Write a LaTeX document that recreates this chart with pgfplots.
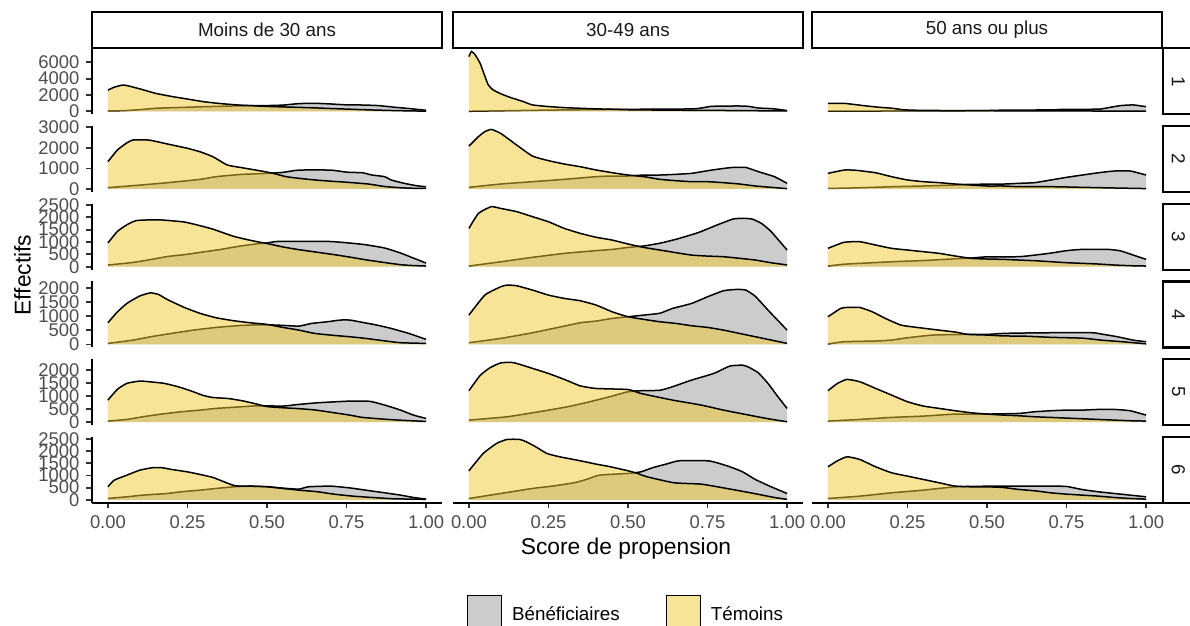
\documentclass[border=0pt]{standalone}
\usepackage{fontspec}
\setmainfont{Liberation Sans}
\usepackage{pgfplots}
\pgfplotsset{compat=1.18}
\definecolor{gfill}{RGB}{153,153,153}
\definecolor{yfill}{RGB}{241,201,45}
\definecolor{ticklab}{RGB}{77,77,77}
\definecolor{tickcol}{RGB}{51,51,51}
\definecolor{striptext}{RGB}{26,26,26}

\newcommand\curves[2]{%
 \addplot[draw=none, fill=gfill, fill opacity=0.5, smooth, tension=0.3, forget plot] coordinates {#1} \closedcycle;
 \addplot[black, line width=0.75pt, smooth, tension=0.3, forget plot] coordinates {#1};
 \addplot[draw=none, fill=yfill, fill opacity=0.5, smooth, tension=0.3, forget plot] coordinates {#2} \closedcycle;
 \addplot[black, line width=0.75pt, smooth, tension=0.3, forget plot] coordinates {#2};
}

\pgfplotsset{
 panel/.style={anchor=north west, scale only axis, width=175pt, height=33pt,
  xmin=-0.05, xmax=1.05, scaled ticks=false,
  xtick={0,0.25,0.5,0.75,1}, xticklabels={0.00,0.25,0.50,0.75,1.00},
  axis line style={black, line width=0.9pt},
  every tick/.style={tickcol, line width=0.9pt},
  major tick length=2.75pt,
  tick label style={font=\fontsize{9.2}{9.5}\selectfont, text=ticklab},
 },
 noax/.style={hide x axis, hide y axis},
 yax/.style={axis y line*=left, hide x axis, tick align=outside},
 xax/.style={axis x line*=bottom, hide y axis, tick align=outside},
 xyax/.style={axis x line*=bottom, axis y line*=left, tick align=outside},
 rowA/.style={ymin=-367.5, ymax=7717.5, ytick={0,2000,4000,6000}, yticklabels={0,2000,4000,6000}},
 rowB/.style={ymin=-146, ymax=3066, ytick={0,1000,2000,3000}, yticklabels={0,1000,2000,3000}},
 rowC/.style={ymin=-121.5, ymax=2551.5, ytick={0,500,1000,1500,2000,2500}, yticklabels={0,500,1000,1500,2000,2500}},
 rowD/.style={ymin=-106, ymax=2226, ytick={0,500,1000,1500,2000}, yticklabels={0,500,1000,1500,2000}},
 rowE/.style={ymin=-116, ymax=2436, ytick={0,500,1000,1500,2000}, yticklabels={0,500,1000,1500,2000}},
 rowF/.style={ymin=-123.5, ymax=2593.5, ytick={0,500,1000,1500,2000,2500}, yticklabels={0,500,1000,1500,2000,2500}},
}

\begin{document}
\begin{tikzpicture}
\path[use as bounding box] (0,0) rectangle (595pt,-313pt);

% ---------------- Row 1 ----------------
\begin{axis}[panel, rowA, yax, at={(46pt,-24.15pt)}]
\curves{(0,40)(0.05,80)(0.1,200)(0.15,370)(0.2,440)(0.25,500)(0.3,560)(0.35,610)(0.4,660)(0.45,690)(0.5,700)(0.55,760)(0.6,940)(0.65,980)(0.7,900)(0.75,790)(0.8,770)(0.85,700)(0.9,500)(0.95,330)(1,120)}
{(0,2600)(0.02,2950)(0.05,3220)(0.1,2750)(0.15,2200)(0.2,1820)(0.25,1500)(0.3,1180)(0.35,960)(0.4,800)(0.45,690)(0.5,600)(0.55,540)(0.6,480)(0.65,420)(0.7,340)(0.75,270)(0.8,200)(0.85,140)(0.9,90)(0.95,50)(1,20)}
\end{axis}
\begin{axis}[panel, rowA, noax, at={(226.5pt,-24.15pt)}]
\curves{(0,0)(0.1,60)(0.2,120)(0.3,170)(0.4,210)(0.5,240)(0.6,270)(0.7,290)(0.73,400)(0.76,600)(0.8,640)(0.85,650)(0.88,600)(0.91,400)(0.95,330)(0.97,250)(1,90)}
{(0,6700)(0.008,7330)(0.02,6900)(0.035,5900)(0.045,4850)(0.06,3300)(0.075,2650)(0.1,2150)(0.13,1700)(0.17,1200)(0.2,780)(0.25,580)(0.3,450)(0.35,370)(0.4,300)(0.45,250)(0.5,190)(0.6,150)(0.7,120)(0.8,100)(0.9,70)(1,40)}
\end{axis}
\begin{axis}[panel, rowA, noax, at={(406pt,-24.15pt)}]
\curves{(0,20)(0.2,40)(0.4,60)(0.5,90)(0.55,140)(0.7,170)(0.74,240)(0.85,260)(0.88,440)(0.92,700)(0.96,780)(1,560)}
{(0,980)(0.05,975)(0.08,850)(0.12,660)(0.16,500)(0.2,380)(0.24,180)(0.3,110)(0.4,90)(0.5,70)(0.6,60)(0.7,50)(0.8,40)(0.9,30)(1,20)}
\end{axis}

% ---------------- Row 2 ----------------
\begin{axis}[panel, rowB, yax, at={(46pt,-63pt)}]
\curves{(0,65)(0.1,190)(0.19,310)(0.29,470)(0.34,600)(0.42,710)(0.5,760)(0.55,810)(0.6,920)(0.7,920)(0.75,820)(0.8,790)(0.83,680)(0.87,600)(0.89,440)(0.93,280)(0.97,160)(1,110)}
{(0,1330)(0.03,1900)(0.06,2250)(0.08,2390)(0.13,2380)(0.19,2180)(0.25,1980)(0.29,1810)(0.33,1570)(0.375,1170)(0.42,1040)(0.48,880)(0.52,760)(0.56,600)(0.6,520)(0.65,440)(0.7,380)(0.75,330)(0.82,240)(0.87,120)(0.92,60)(0.96,35)(1,30)}
\end{axis}
\begin{axis}[panel, rowB, noax, at={(226.5pt,-63pt)}]
\curves{(0,81)(0.1,243)(0.2,356)(0.3,470)(0.4,600)(0.45,632)(0.5,632)(0.55,680)(0.6,680)(0.65,713)(0.7,761)(0.75,890)(0.8,1000)(0.83,1050)(0.87,1050)(0.91,842)(0.96,600)(1,275)}
{(0,2090)(0.03,2550)(0.05,2790)(0.07,2900)(0.1,2705)(0.15,2140)(0.2,1600)(0.25,1380)(0.3,1215)(0.35,1085)(0.4,925)(0.45,795)(0.5,680)(0.55,600)(0.6,470)(0.65,405)(0.7,356)(0.75,356)(0.8,308)(0.85,243)(0.9,146)(0.95,81)(1,16)}
\end{axis}
\begin{axis}[panel, rowB, noax, at={(406pt,-63pt)}]
\curves{(0,30)(0.05,40)(0.1,60)(0.2,110)(0.3,146)(0.4,194)(0.45,227)(0.55,240)(0.6,275)(0.65,308)(0.7,437)(0.75,567)(0.8,680)(0.85,790)(0.9,875)(0.95,875)(1,680)}
{(0,760)(0.05,920)(0.08,920)(0.1,890)(0.15,790)(0.2,600)(0.25,440)(0.3,356)(0.35,308)(0.4,243)(0.45,194)(0.5,146)(0.55,146)(0.6,113)(0.7,113)(0.8,81)(0.9,49)(1,20)}
\end{axis}

% ---------------- Row 3 ----------------
\begin{axis}[panel, rowC, yax, at={(46pt,-101.85pt)}]
\curves{(0,67)(0.08,175)(0.13,280)(0.19,418)(0.24,486)(0.29,580)(0.35,690)(0.41,823)(0.47,930)(0.5,960)(0.53,1020)(0.6,1026)(0.7,1020)(0.76,958)(0.81,890)(0.87,756)(0.92,553)(0.96,350)(1,148)}
{(0,960)(0.03,1430)(0.06,1700)(0.09,1870)(0.16,1900)(0.24,1810)(0.29,1660)(0.33,1520)(0.395,1230)(0.44,1090)(0.48,985)(0.5,940)(0.55,800)(0.6,690)(0.65,600)(0.71,490)(0.76,390)(0.81,280)(0.866,175)(0.92,81)(0.96,45)(1,27)}
\end{axis}
\begin{axis}[panel, rowC, noax, at={(226.5pt,-101.85pt)}]
\curves{(0,27)(0.1,200)(0.2,380)(0.3,540)(0.4,650)(0.45,700)(0.5,780)(0.55,840)(0.6,950)(0.65,1107)(0.72,1377)(0.78,1690)(0.83,1930)(0.86,1960)(0.89,1930)(0.92,1750)(0.95,1420)(1,675)}
{(0,1550)(0.03,2160)(0.07,2430)(0.1,2360)(0.15,2230)(0.2,2025)(0.25,1820)(0.3,1550)(0.35,1350)(0.4,1190)(0.45,1080)(0.5,920)(0.55,780)(0.6,675)(0.65,570)(0.7,470)(0.75,430)(0.8,405)(0.85,340)(0.9,270)(0.95,160)(1,70)}
\end{axis}
\begin{axis}[panel, rowC, noax, at={(406pt,-101.85pt)}]
\curves{(0,27)(0.05,100)(0.1,135)(0.2,200)(0.3,250)(0.4,320)(0.45,350)(0.5,400)(0.6,405)(0.65,470)(0.7,550)(0.75,650)(0.8,702)(0.88,702)(0.92,640)(0.96,470)(1,297)}
{(0,743)(0.05,986)(0.1,1013)(0.15,878)(0.2,743)(0.25,675)(0.3,608)(0.35,540)(0.4,432)(0.45,338)(0.5,311)(0.55,297)(0.6,270)(0.65,243)(0.7,203)(0.75,162)(0.8,135)(0.85,108)(0.9,68)(0.95,40)(1,27)}
\end{axis}

% ---------------- Row 4 ----------------
\begin{axis}[panel, rowD, yax, at={(46pt,-140.7pt)}]
\curves{(0,35)(0.08,153)(0.134,270)(0.186,365)(0.27,506)(0.34,600)(0.42,670)(0.48,694)(0.53,683)(0.6,647)(0.64,741)(0.69,800)(0.73,860)(0.76,860)(0.79,800)(0.845,683)(0.89,565)(0.945,390)(1,177)}
{(0,765)(0.03,1150)(0.06,1450)(0.1,1710)(0.134,1820)(0.16,1760)(0.186,1590)(0.24,1306)(0.29,1095)(0.34,942)(0.395,836)(0.447,765)(0.5,706)(0.55,600)(0.6,506)(0.65,388)(0.71,318)(0.76,271)(0.81,212)(0.866,130)(0.92,59)(1,35)}
\end{axis}
\begin{axis}[panel, rowD, noax, at={(226.5pt,-140.7pt)}]
\curves{(0,59)(0.1,212)(0.2,412)(0.3,647)(0.35,765)(0.4,824)(0.45,918)(0.5,977)(0.55,1036)(0.6,1100)(0.64,1271)(0.7,1448)(0.75,1683)(0.8,1895)(0.84,1942)(0.87,1920)(0.9,1700)(0.94,1212)(1,506)}
{(0,1036)(0.05,1742)(0.1,2036)(0.12,2095)(0.15,2072)(0.2,1919)(0.25,1742)(0.3,1624)(0.35,1542)(0.4,1389)(0.45,1153)(0.5,977)(0.55,883)(0.6,800)(0.65,742)(0.7,659)(0.75,600)(0.8,506)(0.85,388)(0.9,271)(0.95,153)(1,35)}
\end{axis}
\begin{axis}[panel, rowD, noax, at={(406pt,-140.7pt)}]
\curves{(0,12)(0.05,94)(0.15,120)(0.2,153)(0.25,235)(0.33,330)(0.44,353)(0.5,353)(0.55,388)(0.6,400)(0.7,412)(0.83,412)(0.86,365)(0.91,270)(0.96,150)(1,94)}
{(0,977)(0.04,1270)(0.06,1306)(0.1,1306)(0.14,1150)(0.18,920)(0.23,680)(0.28,600)(0.33,530)(0.4,436)(0.44,353)(0.5,330)(0.55,300)(0.62,290)(0.7,250)(0.8,220)(0.86,150)(0.93,90)(1,20)}
\end{axis}

% ---------------- Row 5 ----------------
\begin{axis}[panel, rowE, yax, at={(46pt,-179.55pt)}]
\curves{(0,39)(0.06,103)(0.11,206)(0.16,297)(0.23,400)(0.29,464)(0.34,529)(0.42,593)(0.47,632)(0.55,620)(0.6,684)(0.66,748)(0.76,813)(0.81,813)(0.83,790)(0.87,658)(0.92,464)(0.96,271)(1,142)}
{(0,851)(0.03,1270)(0.06,1500)(0.1,1587)(0.13,1560)(0.176,1500)(0.22,1370)(0.26,1210)(0.3,1030)(0.33,950)(0.375,916)(0.42,830)(0.46,720)(0.5,600)(0.55,555)(0.6,520)(0.65,470)(0.69,400)(0.76,271)(0.8,181)(0.88,103)(0.94,60)(1,26)}
\end{axis}
\begin{axis}[panel, rowE, noax, at={(226.5pt,-179.55pt)}]
\curves{(0,77)(0.12,206)(0.22,400)(0.31,593)(0.38,787)(0.45,1006)(0.5,1174)(0.54,1213)(0.6,1230)(0.64,1367)(0.7,1625)(0.77,1883)(0.82,2167)(0.86,2200)(0.88,2120)(0.91,1900)(0.94,1496)(0.97,1000)(1,529)}
{(0,1213)(0.035,1800)(0.066,2100)(0.1,2290)(0.14,2300)(0.2,2077)(0.25,1880)(0.3,1650)(0.35,1400)(0.4,1300)(0.5,1260)(0.54,1109)(0.64,851)(0.73,658)(0.8,464)(0.88,271)(0.94,130)(1,13)}
\end{axis}
\begin{axis}[panel, rowE, noax, at={(406pt,-179.55pt)}]
\curves{(0,39)(0.1,103)(0.2,181)(0.3,232)(0.4,310)(0.5,310)(0.6,335)(0.65,400)(0.7,439)(0.75,464)(0.8,464)(0.85,490)(0.9,490)(0.95,439)(1,271)}
{(0,1213)(0.03,1496)(0.06,1651)(0.1,1561)(0.15,1303)(0.2,1045)(0.25,787)(0.3,619)(0.35,529)(0.4,439)(0.45,361)(0.5,310)(0.55,271)(0.6,245)(0.65,206)(0.7,181)(0.75,155)(0.8,129)(0.85,103)(0.9,77)(0.95,52)(1,39)}
\end{axis}

% ---------------- Row 6 ----------------
\begin{axis}[panel, rowF, xyax, at={(46pt,-218.4pt)}]
\curves{(0,55)(0.06,124)(0.11,192)(0.186,260)(0.23,330)(0.29,398)(0.34,467)(0.395,535)(0.45,560)(0.5,540)(0.55,480)(0.6,440)(0.63,535)(0.7,563)(0.76,490)(0.81,398)(0.87,288)(0.92,192)(0.96,96)(1,27)}
{(0,535)(0.02,810)(0.06,1016)(0.1,1220)(0.14,1320)(0.17,1320)(0.2,1250)(0.25,1150)(0.29,1043)(0.33,920)(0.365,741)(0.4,577)(0.45,560)(0.5,535)(0.55,467)(0.6,398)(0.66,330)(0.71,233)(0.77,151)(0.83,96)(0.9,41)(1,20)}
\end{axis}
\begin{axis}[panel, rowF, xax, at={(226.5pt,-218.4pt)},
  legend columns=2,
  legend style={draw=none, fill=none, inner sep=0pt, outer sep=0pt,
    at={(0.0391,-1.670)}, anchor=west,
    font=\fontsize{9.4}{9.6}\selectfont,
    nodes={inner sep=0pt},
    /tikz/every odd column/.append style={column sep=4.8pt},
    /tikz/every even column/.append style={column sep=22.9pt}},
  legend cell align=left]
\curves{(0,55)(0.1,261)(0.2,467)(0.26,560)(0.33,700)(0.37,840)(0.41,1016)(0.5,1085)(0.54,1150)(0.58,1332)(0.62,1469)(0.66,1606)(0.75,1606)(0.78,1524)(0.82,1359)(0.86,1153)(0.9,838)(0.95,535)(1,261)}
{(0,1194)(0.045,1908)(0.087,2320)(0.12,2485)(0.16,2485)(0.18,2389)(0.21,2183)(0.245,1908)(0.285,1771)(0.35,1606)(0.4,1469)(0.445,1359)(0.5,1194)(0.53,1085)(0.56,947)(0.645,700)(0.73,645)(0.81,467)(0.885,288)(0.96,96)(1,20)}
\addlegendimage{legend image code/.code={\draw[fill=gfill, fill opacity=0.5, draw=black, line width=0.6pt] (0pt,-7.85pt) rectangle (17.3pt,9.45pt);}}
\addlegendentry{Bénéficiaires}
\addlegendimage{legend image code/.code={\draw[fill=yfill, fill opacity=0.5, draw=black, line width=0.6pt] (0pt,-7.85pt) rectangle (17.3pt,9.45pt);}}
\addlegendentry{Témoins}
\end{axis}
\begin{axis}[panel, rowF, xax, at={(406pt,-218.4pt)}]
\curves{(0,55)(0.1,151)(0.2,288)(0.3,398)(0.4,535)(0.5,560)(0.6,563)(0.7,563)(0.75,550)(0.8,420)(0.85,330)(0.9,261)(0.95,192)(1,124)}
{(0,1359)(0.03,1606)(0.06,1771)(0.1,1661)(0.15,1359)(0.2,1112)(0.25,975)(0.3,838)(0.35,700)(0.4,563)(0.45,535)(0.5,535)(0.55,508)(0.6,426)(0.65,371)(0.7,288)(0.75,233)(0.8,192)(0.85,151)(0.9,96)(0.95,55)(1,27)}
\end{axis}

% ---------------- Strips ----------------
\begin{scope}[line width=1.1pt, font=\fontsize{9.4}{9.6}\selectfont]
\foreach \L/\T in {46/Moins de 30 ans, 226.5/30-49 ans, 406/50 ans ou plus}{
  \draw[fill=white] (\L pt,-6.15pt) rectangle ({\L pt+175pt},-23.85pt);
  \node[text=striptext] at ({\L pt+87.5pt},-15pt) {\T};
}
\foreach \T/\n in {24.15/1, 63/2, 101.85/3, 140.7/4, 179.55/5, 218.4/6}{
  \draw[fill=white] (581.35pt,-\T pt) rectangle (600pt,{-\T pt-33pt});
  \node[text=striptext, rotate=-90] at (589.2pt,{-\T pt-16.5pt}) {\n};
}
\end{scope}

% ---------------- Axis titles ----------------
\node[font=\fontsize{11.4}{12}\selectfont] at (313pt,-274.5pt) {Score de propension};
\node[font=\fontsize{11.4}{12}\selectfont, rotate=90] at (11.25pt,-137.5pt) {Effectifs};
\end{tikzpicture}
\end{document}
